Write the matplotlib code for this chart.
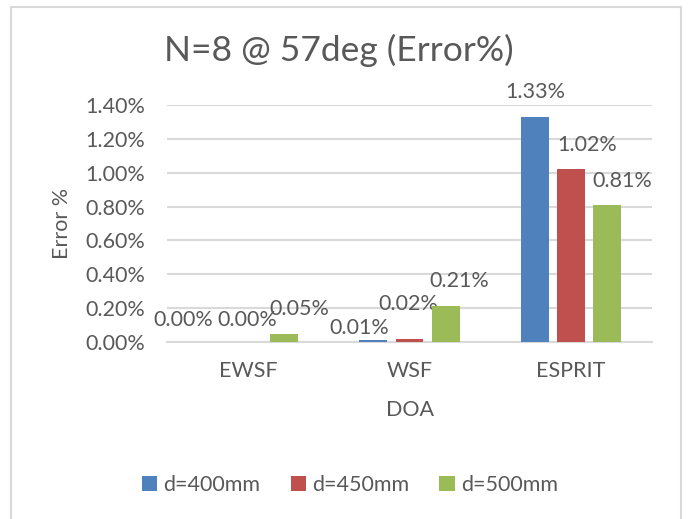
import matplotlib.pyplot as plt
import numpy as np
from matplotlib.patches import Rectangle
from matplotlib.ticker import PercentFormatter

plt.rcParams['font.family'] = ['Lato', 'DejaVu Sans']

methods = ['EWSF', 'WSF', 'ESPRIT']
series = ['d=400mm', 'd=450mm', 'd=500mm']
# error in percent
d400 = [0.00, 0.01, 1.33]
d450 = [0.00, 0.02, 1.02]
d500 = [0.05, 0.21, 0.81]

colors = ['#4F81BD', '#C0504D', '#9BBB59']
txt = '#595959'
grid = '#D9D9D9'

# label nudges in pixels (dx, dy above bar top)
nudges = [
    [(-29, 22), (-14, 12), (0, 25)],
    [(-1, 22), (-1, 35), (16, 24)],
    [(15, 25), (14, 25), (15, 24)],
]

fig = plt.figure(figsize=(6.89, 5.19), dpi=100)
ax = fig.add_axes([0.2424, 0.341, 0.7039, 0.4566])

# chart frame
fig.patches.append(Rectangle((11 / 689, -0.05), 670 / 689, 1.05 - 7 / 519,
                             transform=fig.transFigure, fill=False,
                             edgecolor=grid, lw=1.5))

x = np.arange(len(methods))
width = 0.173
step = 0.223
for i, (vals, name) in enumerate(zip([d400, d450, d500], series)):
    bars = ax.bar(x + (i - 1) * step, vals, width, color=colors[i], label=name, zorder=3)
    for j, (b, v) in enumerate(zip(bars, vals)):
        dx, dy = nudges[i][j]
        ax.annotate(f'{v:.2f}%', (b.get_x() + b.get_width() / 2, b.get_height()),
                    xytext=(dx * 0.72, dy * 0.72), textcoords='offset points',
                    ha='center', va='center', fontsize=15.5, color=txt)

ax.set_xlim(-0.5, 2.5)
ax.set_ylim(0, 1.4)
ax.set_yticks(np.arange(0, 1.41, 0.2))
ax.yaxis.set_major_formatter(PercentFormatter(decimals=2))
ax.set_xticks(x)
ax.set_xticklabels(methods)
ax.grid(axis='y', color=grid, lw=1.5, zorder=0)
for s in ['top', 'right', 'left']:
    ax.spines[s].set_visible(False)
ax.spines['bottom'].set_color(grid)
ax.spines['bottom'].set_linewidth(1.5)
ax.tick_params(length=0, labelsize=15.5, labelcolor=txt)
ax.tick_params(axis='y', pad=16)
ax.tick_params(axis='x', pad=14)

ax.set_xlabel('DOA', fontsize=15.5, color=txt)
ax.xaxis.set_label_coords(0.5, -0.245)
ax.set_ylabel('Error %', fontsize=15.5, color=txt)
ax.yaxis.set_label_coords(-0.196, 0.5)

fig.text(339 / 689, 1 - 50 / 519, 'N=8 @ 57deg (Error%)', ha='center', va='center',
         fontsize=25.5, color=txt)

ax.legend(loc='center', bbox_to_anchor=(350 / 689, 1 - 485 / 519),
          bbox_transform=fig.transFigure, ncol=3, frameon=False, fontsize=15.5,
          labelcolor=txt, handlelength=0.7, handleheight=0.7, handletextpad=0.3,
          columnspacing=1.4)

fig.savefig('out.png', dpi=100)
